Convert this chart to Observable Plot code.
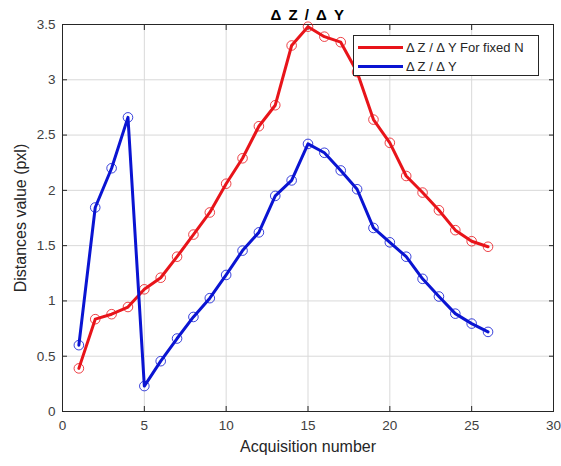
<!DOCTYPE html>
<html>
<head>
<meta charset="utf-8">
<script src="https://cdn.jsdelivr.net/npm/d3@7"></script>
<script src="https://cdn.jsdelivr.net/npm/@observablehq/plot@0.6"></script>
<style>
  html, body { margin: 0; padding: 0; background: #fff; overflow: hidden; }
  #wrap { position: relative; width: 561px; height: 466px; font-family: "Liberation Sans", Arial, sans-serif; }
  #legend { position: absolute; left: 353px; top: 35px; width: 186px; height: 41px; border: 1px solid #262626; background: #fff; box-sizing: border-box; font-size: 13px; color: #262626; }
  .row { position: absolute; left: 4px; height: 16px; display: flex; align-items: center; }
  .sw { width: 45px; height: 3px; margin-right: 3px; }
</style>
</head>
<body>
<div id="wrap"></div>
<script>
const acquisition = [1,2,3,4,5,6,7,8,9,10,11,12,13,14,15,16,17,18,19,20,21,22,23,24,25,26];
const fixedN = [0.39,0.835,0.88,0.945,1.105,1.21,1.40,1.60,1.80,2.06,2.29,2.58,2.77,3.31,3.48,3.39,3.34,3.07,2.64,2.43,2.13,1.98,1.82,1.64,1.54,1.49];
const dzdy = [0.60,1.845,2.20,2.66,0.23,0.455,0.66,0.855,1.025,1.235,1.455,1.62,1.95,2.09,2.42,2.34,2.18,2.01,1.66,1.53,1.40,1.20,1.04,0.885,0.795,0.72];
const xTicks = [0,5,10,15,20,25,30];
const yTicks = [0,0.5,1,1.5,2,2.5,3,3.5];
const seriesNames = ["\u0394 Z / \u0394 Y For fixed N", "\u0394 Z / \u0394 Y"];
const titleText = "\u0394 Z / \u0394 Y";
const colors = ["#e8141a", "#0a14d2"];

const red = acquisition.map((x, i) => ({x, y: fixedN[i]}));
const blue = acquisition.map((x, i) => ({x, y: dzdy[i]}));

const chart = Plot.plot({
  width: 561,
  height: 466,
  marginLeft: 62,
  marginRight: 8,
  marginTop: 24,
  marginBottom: 55,
  style: { fontFamily: "Liberation Sans, Arial, sans-serif", fontSize: "13.5px", color: "#262626", background: "#fff" },
  x: { domain: [0, 30], ticks: xTicks },
  y: { domain: [0, 3.5], ticks: yTicks },
  marks: [
    Plot.gridX(xTicks, { stroke: "#d9d9d9", strokeOpacity: 1, strokeWidth: 1 }),
    Plot.gridY(yTicks, { stroke: "#d9d9d9", strokeOpacity: 1, strokeWidth: 1 }),
    Plot.axisX(xTicks, { tickSize: -5, tickPadding: 14, stroke: "#262626", fill: "#404040", label: "Acquisition number", labelAnchor: "center", labelArrow: "none", labelOffset: 40, fontSize: 13.5 }),
    Plot.axisX(xTicks, { anchor: "top", tickSize: -5, tickFormat: () => "", label: null, stroke: "#262626" }),
    Plot.axisY(yTicks, { tickSize: -5, tickPadding: 12, stroke: "#262626", fill: "#404040", label: "Distances value (pxl)", labelAnchor: "center", labelArrow: "none", labelOffset: 48, tickFormat: d => String(d), fontSize: 13.5 }),
    Plot.axisY(yTicks, { anchor: "right", tickSize: -5, tickFormat: () => "", label: null, stroke: "#262626" }),
    Plot.frame({ stroke: "#262626", strokeWidth: 1 }),
    Plot.line(red, { x: "x", y: "y", stroke: colors[0], strokeWidth: 3 }),
    Plot.dot(red, { x: "x", y: "y", r: 4.8, stroke: colors[0], strokeWidth: 1, fill: "none", strokeOpacity: 0.8 }),
    Plot.line(blue, { x: "x", y: "y", stroke: colors[1], strokeWidth: 3 }),
    Plot.dot(blue, { x: "x", y: "y", r: 4.8, stroke: colors[1], strokeWidth: 1, fill: "none", strokeOpacity: 0.8 }),
    Plot.text([titleText], { frameAnchor: "top", dy: -15, fontWeight: "bold", fontSize: 15, fill: "#000" })
  ]
});
chart.querySelectorAll("g[aria-label='y-axis label'] text, g[aria-label='x-axis label'] text").forEach(t => { t.style.fontSize = "16px"; t.setAttribute("fill", "#262626"); });
chart.querySelectorAll("g[aria-label='text'] text").forEach(t => { t.style.letterSpacing = "1.5px"; });

const wrap = document.getElementById("wrap");
wrap.appendChild(chart);
const legend = document.createElement("div");
legend.id = "legend";
seriesNames.forEach((name, i) => {
  const row = document.createElement("div");
  row.className = "row";
  row.style.top = (i === 0 ? 3 : 22) + "px";
  const sw = document.createElement("div");
  sw.className = "sw";
  sw.style.background = colors[i];
  const tx = document.createElement("span");
  tx.textContent = name;
  row.appendChild(sw);
  row.appendChild(tx);
  legend.appendChild(row);
});
wrap.appendChild(legend);
</script>
</body>
</html>
